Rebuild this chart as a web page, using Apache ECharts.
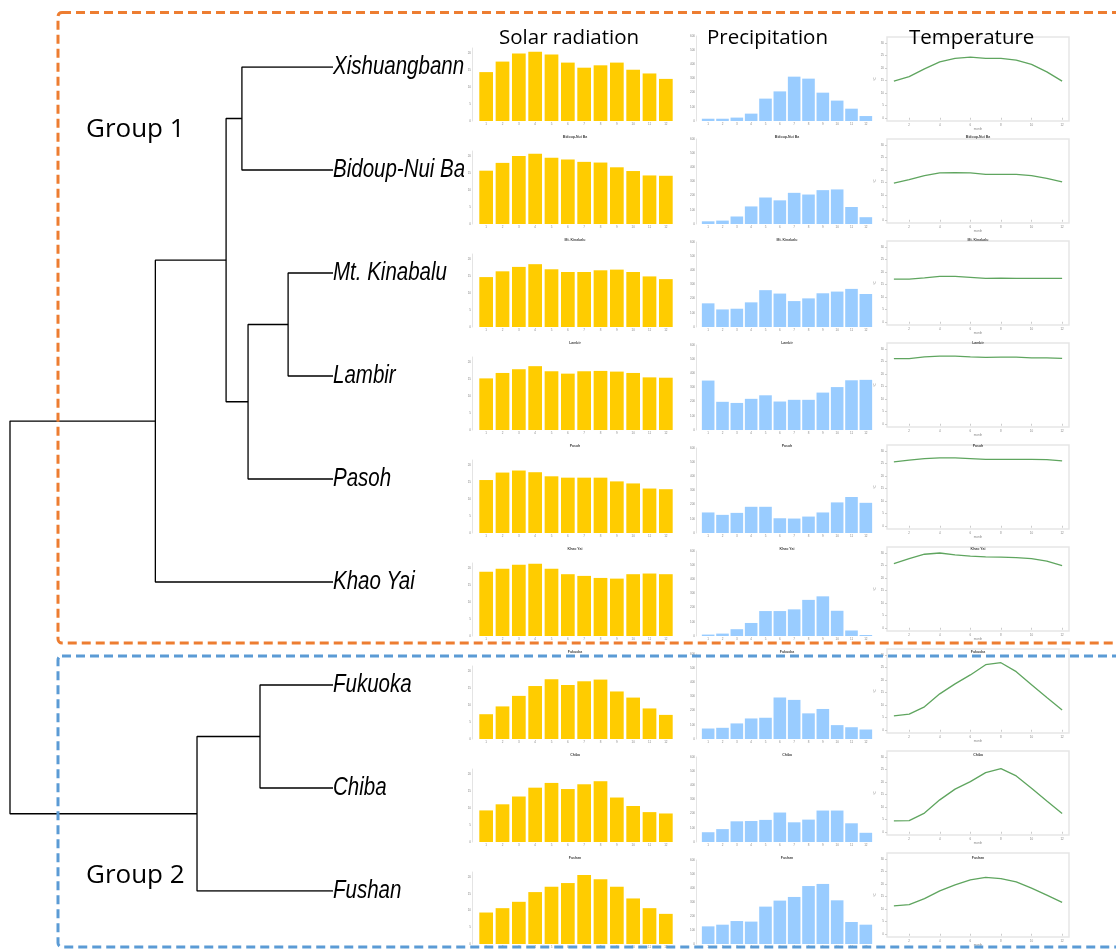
<!DOCTYPE html>
<html><head><meta charset="utf-8">
<script src="https://cdn.jsdelivr.net/npm/echarts@6/dist/echarts.min.js"></script>
<style>html,body{margin:0;padding:0;background:#fff}#c{width:1116px;height:949px}</style>
</head><body><div id="c"></div>
<script>
// ---------- data ----------
const months = ['1','2','3','4','5','6','7','8','9','10','11','12'];
const sites = ['Xishuangbanna','Bidoup-Nui Ba','Mt. Kinabalu','Lambir','Pasoh','Khao Yai','Fukuoka','Chiba','Fushan'];
const headers = ['Solar radiation','Precipitation','Temperature'];
const groupNames = ['Group 1','Group 2'];

// dendrogram (hclust style: negative = leaf number, positive = merge number)
const mergeLeft   = [-1, -3, 2, 1, 4, -7, 6, 5];
const mergeRight  = [-2, -4, -5, 3, -6, -8, -9, 7];
const mergeHeight = [2.82, 1.39, 2.63, 3.31, 5.50, 2.26, 4.21, 10.0];

const solarTicks = [0, 5, 10, 15, 20];
const precipTicks = [0, 100, 200, 300, 400, 500, 600];
const tempTicks = [0, 5, 10, 15, 20, 25, 30];
const tempMonthTicks = [2, 4, 6, 8, 10, 12];

const solarXishuangbanna = [14.4,17.5,19.9,20.4,19.6,17.2,15.7,16.4,17.2,15.1,14.0,12.4];
const solarBidoup        = [15.7,18.0,20.0,20.7,19.5,19.0,18.3,18.1,16.7,15.6,14.3,14.2];
const solarKinabalu      = [14.7,16.4,17.7,18.5,17.0,16.2,16.2,16.7,16.9,16.2,14.9,14.1];
const solarLambir        = [15.2,16.8,17.9,18.8,17.3,16.6,17.3,17.4,17.2,16.8,15.5,15.4];
const solarPasoh         = [15.6,17.8,18.4,17.9,16.7,16.3,16.3,16.3,15.2,14.6,13.1,12.9];
const solarKhaoYai       = [18.9,19.8,21.0,21.3,19.8,18.2,17.7,17.1,16.9,18.2,18.4,18.2];
const solarFukuoka       = [7.3,9.6,12.7,15.6,17.6,15.9,17.0,17.5,14.0,12.2,9.0,7.1];
const solarChiba         = [9.3,11.1,13.4,16.0,17.4,15.6,17.0,17.9,13.1,10.6,8.8,8.4];
const solarFushan        = [9.4,10.7,12.6,15.5,17.1,18.2,20.6,19.3,17.1,13.6,10.7,9.0];

const precipXishuangbanna = [16,16,24,52,158,209,313,299,200,144,87,35];
const precipBidoup        = [19,24,53,124,187,167,220,208,239,244,120,48];
const precipKinabalu      = [167,124,129,174,260,236,183,202,238,250,269,233];
const precipLambir        = [349,199,191,220,245,201,213,213,264,303,351,354];
const precipPasoh         = [145,128,142,185,185,104,102,116,145,216,254,213];
const precipKhaoYai       = [10,17,48,92,176,176,188,255,280,178,39,7];
const precipFukuoka       = [74,79,110,145,150,293,276,181,212,98,83,67];
const precipChiba         = [69,91,146,148,156,208,139,158,222,222,132,65];
const precipFushan        = [126,138,164,160,267,310,336,414,429,312,157,138];

const tempXishuangbanna = [14.7,16.5,19.6,22.4,23.8,24.3,23.8,23.8,23.1,21.4,18.4,14.7];
const tempBidoup        = [14.7,16.1,17.7,18.8,18.9,18.8,18.2,18.2,18.2,17.7,16.6,15.2];
const tempKinabalu      = [17.1,17.1,17.6,18.2,18.2,17.8,17.4,17.5,17.4,17.4,17.4,17.4];
const tempLambir        = [26.1,26.1,26.8,27.1,27.1,26.8,26.6,26.7,26.7,26.4,26.4,26.2];
const tempPasoh         = [25.6,26.3,26.9,27.2,27.2,26.9,26.6,26.6,26.6,26.6,26.5,26.0];
const tempKhaoYai       = [25.7,27.7,29.5,30.0,29.2,28.7,28.4,28.3,28.1,27.7,26.7,24.9];
const tempFukuoka       = [5.6,6.3,9.2,14.4,18.4,22.0,26.1,26.9,23.3,18.1,12.9,7.9];
const tempChiba         = [4.4,4.5,7.5,12.8,17.1,20.1,23.7,25.3,22.4,17.5,12.3,7.3];
const tempFushan        = [11.2,11.7,14.1,17.2,19.6,21.6,22.6,22.1,20.8,18.3,15.5,12.6];

const solarRows  = [solarXishuangbanna, solarBidoup, solarKinabalu, solarLambir, solarPasoh, solarKhaoYai, solarFukuoka, solarChiba, solarFushan];
const precipRows = [precipXishuangbanna, precipBidoup, precipKinabalu, precipLambir, precipPasoh, precipKhaoYai, precipFukuoka, precipChiba, precipFushan];
const tempRows   = [tempXishuangbanna, tempBidoup, tempKinabalu, tempLambir, tempPasoh, tempKhaoYai, tempFukuoka, tempChiba, tempFushan];

// ---------- build ----------
const grid = [], xAxis = [], yAxis = [], series = [], graphic = [];
const tinyLabel = { fontSize: 3, color: '#888', fontFamily: 'Liberation Sans' };

// dendrogram grid
grid.push({ left: 10, top: 67, width: 323, height: 824 });
xAxis.push({ type: 'value', gridIndex: 0, min: 0, max: 10, inverse: true, show: false });
yAxis.push({ type: 'value', gridIndex: 0, min: 0, max: 8, inverse: true, show: false });

function nodePos(id) {
  if (id < 0) return { h: 0, y: -id - 1 };
  const m = id - 1;
  const a = nodePos(mergeLeft[m]), b = nodePos(mergeRight[m]);
  return { h: mergeHeight[m], y: (a.y + b.y) / 2 };
}
for (let m = 0; m < mergeHeight.length; m++) {
  const a = nodePos(mergeLeft[m]), b = nodePos(mergeRight[m]), h = mergeHeight[m];
  series.push({
    type: 'line', xAxisIndex: 0, yAxisIndex: 0, symbol: 'none', silent: true, animation: false,
    lineStyle: { color: '#000', width: 1.3 },
    data: [[a.h, a.y], [h, a.y], [h, b.y], [b.h, b.y]]
  });
}

let gi = 1;
for (let i = 0; i < sites.length; i++) {
  const base = 121 + 103 * i;
  // solar
  grid.push({ left: 478, top: base - 73, width: 196, height: 73 });
  xAxis.push({ type: 'category', gridIndex: gi, data: months, axisLine: { show: false }, axisTick: { show: false },
    axisLabel: Object.assign({ margin: 2 }, tinyLabel) });
  yAxis.push({ type: 'value', gridIndex: gi, z: 3, min: 0, max: 21.5, offset: 6, splitLine: { show: false },
    axisLine: { show: true, lineStyle: { color: '#e4e4e4', width: 1 } }, axisTick: { show: false },
    axisLabel: Object.assign({ margin: 1, customValues: solarTicks }, tinyLabel) });
  series.push({ type: 'bar', xAxisIndex: gi, yAxisIndex: gi, data: solarRows[i], barCategoryGap: '16%',
    itemStyle: { color: '#FFCC00' }, silent: true, animation: false });
  gi++;
  // precipitation
  grid.push({ left: 701, top: base - 85, width: 172, height: 85 });
  xAxis.push({ type: 'category', gridIndex: gi, data: months, axisLine: { show: false }, axisTick: { show: false },
    axisLabel: Object.assign({ margin: 2 }, tinyLabel) });
  yAxis.push({ type: 'value', gridIndex: gi, min: 0, max: 600, interval: 100, offset: 5, splitLine: { show: false },
    axisLine: { show: true, lineStyle: { color: '#e4e4e4', width: 1 } }, axisTick: { show: false },
    axisLabel: Object.assign({ margin: 1 }, tinyLabel) });
  series.push({ type: 'bar', xAxisIndex: gi, yAxisIndex: gi, data: precipRows[i], barCategoryGap: '12%',
    itemStyle: { color: '#99CCFF' }, silent: true, animation: false });
  gi++;
  // temperature
  const tTop = 37 + 102 * i;
  grid.push({ left: 887, top: tTop, width: 182, height: 84, show: true, borderColor: '#e6e6e6', borderWidth: 1.5 });
  xAxis.push({ type: 'value', gridIndex: gi, min: 0.55, max: 12.45, splitLine: { show: false }, axisLine: { show: false },
    axisTick: { show: true, length: 2, customValues: tempMonthTicks, lineStyle: { color: '#ccc' } },
    axisLabel: Object.assign({ margin: 3, customValues: tempMonthTicks }, tinyLabel),
    name: 'month', nameLocation: 'middle', nameGap: 7, nameTextStyle: tinyLabel });
  yAxis.push({ type: 'value', gridIndex: gi, min: -1.3, max: 32.4, splitLine: { show: false }, axisLine: { show: false },
    axisTick: { show: true, length: 2, customValues: tempTicks, lineStyle: { color: '#ccc' } },
    axisLabel: Object.assign({ margin: 3, customValues: tempTicks }, tinyLabel),
    name: '°C', nameLocation: 'middle', nameGap: 9, nameTextStyle: tinyLabel });
  series.push({ type: 'line', xAxisIndex: gi, yAxisIndex: gi, symbol: 'none', silent: true, animation: false,
    data: tempRows[i].map((v, k) => [k + 1, v]), lineStyle: { color: '#5fa55f', width: 1.3 } });
  gi++;

  // tiny panel titles (first row hidden under the column headers)
  if (i > 0) {
    const ty = 34 + 103 * i;
    [575, 787, 978].forEach(cx => graphic.push({ type: 'text', x: cx, y: ty, z: 50, silent: true,
      style: { text: sites[i], fontSize: 3.5, fontWeight: 'bold', fill: '#444', align: 'center', verticalAlign: 'middle' } }));
  }
}

// column headers
[[499, headers[0]], [707, headers[1]], [909, headers[2]]].forEach(([x, t]) => graphic.push({
  type: 'text', x: x, y: 38, z: 60, silent: true,
  style: { text: t, fontSize: 20.5, fontFamily: '"Open Sans", sans-serif', fill: '#000', align: 'left', verticalAlign: 'middle' }
}));
// group labels
graphic.push({ type: 'text', x: 86, y: 130, z: 60, silent: true,
  style: { text: groupNames[0], fontSize: 26, fontFamily: '"Open Sans", sans-serif', fill: '#000', align: 'left', verticalAlign: 'middle' } });
graphic.push({ type: 'text', x: 86, y: 876, z: 60, silent: true,
  style: { text: groupNames[1], fontSize: 26, fontFamily: '"Open Sans", sans-serif', fill: '#000', align: 'left', verticalAlign: 'middle' } });
// dashed group boxes
graphic.push({ type: 'rect', z: 100, silent: true, shape: { x: 58, y: 12.5, width: 1140, height: 630.5, r: 4 },
  style: { fill: 'none', stroke: '#ED7D31', lineWidth: 3, lineDash: [9, 5] } });
graphic.push({ type: 'rect', z: 100, silent: true, shape: { x: 58, y: 656, width: 1140, height: 291, r: 4 },
  style: { fill: 'none', stroke: '#5B9BD5', lineWidth: 3, lineDash: [9, 5] } });
// white strip where the solar panels overlap the leaf names (names run under the panels)
graphic.push({ type: 'rect', z: 1, silent: true, shape: { x: 464, y: 40, width: 16, height: 890 },
  style: { fill: '#fff' } });

const chart = echarts.init(document.getElementById('c'), null, { renderer: 'canvas' });
chart.setOption({ backgroundColor: '#fff', animation: false, grid, xAxis, yAxis, series, graphic });

// leaf names placed at the dendrogram leaf positions through the dendrogram axes
sites.forEach((s, i) => {
  const p = chart.convertToPixel({ gridIndex: 0 }, [0, i]);
  graphic.push({ type: 'text', x: p[0], y: p[1], z: 0, scaleX: 0.82, silent: true,
    style: { text: s, fontSize: 25, fontStyle: 'italic', fontFamily: '"Liberation Sans", Arial, sans-serif',
      fill: '#000', align: 'left', verticalAlign: 'middle' } });
});
chart.setOption({ graphic });
</script>
</body></html>
